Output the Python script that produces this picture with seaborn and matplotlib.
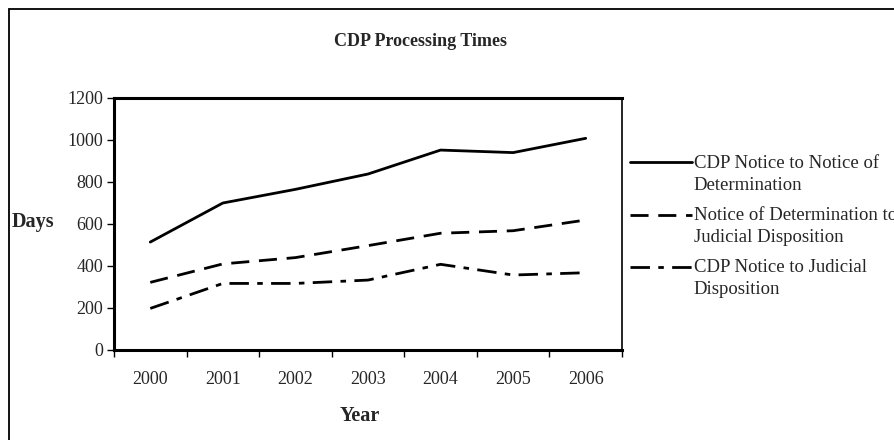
import matplotlib
matplotlib.use("Agg")
import matplotlib.pyplot as plt
import seaborn as sns
import pandas as pd
from matplotlib.lines import Line2D
from matplotlib.legend_handler import HandlerLine2D

years = ["2000", "2001", "2002", "2003", "2004", "2005", "2006"]
notice_to_determination = [514, 700, 765, 838, 952, 940, 1008]
determination_to_judicial = [322, 410, 440, 497, 556, 568, 619]
notice_to_judicial = [198, 317, 317, 333, 408, 357, 368]
series_names = ["CDP Notice to Notice of\nDetermination",
                "Notice of Determination to\nJudicial Disposition",
                "CDP Notice to Judicial\nDisposition"]
y_ticks = [0, 200, 400, 600, 800, 1000, 1200]

sns.set_theme(style="white")
plt.rcParams["font.family"] = ["Liberation Serif", "DejaVu Serif"]
plt.rcParams["lines.scale_dashes"] = False

rows = []
for name, vals in zip(series_names, [notice_to_determination, determination_to_judicial, notice_to_judicial]):
    for i, (yr, v) in enumerate(zip(years, vals)):
        rows.append({"pos": i, "Year": yr, "Days": v, "Series": name})
df = pd.DataFrame(rows)

W, H = 894, 440
fig = plt.figure(figsize=(W / 100, H / 100), dpi=100)
ax = fig.add_axes([114 / W, 1 - 350 / H, (622 - 114) / W, (350 - 98) / H])

dash_styles = ["-", (0, (13, 7)), (0, (14, 6, 4, 6))]
for name, ls in zip(series_names, dash_styles):
    sub = df[df["Series"] == name]
    sns.lineplot(data=sub, x="pos", y="Days", ax=ax, color="black", lw=2,
                 linestyle=ls, legend=False)

ax.set_xlim(-0.5, len(years) - 0.5)
ax.set_ylim(0, 1200)
ax.set_yticks(y_ticks)
ax.set_yticklabels([str(t) for t in y_ticks], fontsize=13)
ax.set_xticks([i - 0.5 for i in range(len(years) + 1)])
ax.set_xticklabels([])
ax.set_xticks(range(len(years)), minor=True)
ax.set_xticklabels(years, minor=True, fontsize=13)
ax.tick_params(axis="x", which="major", direction="out", length=5, width=1, color="black", bottom=True)
ax.tick_params(axis="x", which="minor", length=0, pad=15)
ax.tick_params(axis="y", direction="out", length=5, width=1, color="black", left=True, pad=3)
ax.set_xlabel("")
ax.set_ylabel("")
for side, lw in [("left", 2.2), ("bottom", 2.2), ("top", 2.2), ("right", 1.2)]:
    ax.spines[side].set_visible(True)
    ax.spines[side].set_color("black")
    ax.spines[side].set_linewidth(lw)
ax.grid(False)

fig.text(420 / W, 1 - 42 / H, "CDP Processing Times", ha="center", va="center",
         fontsize=13, fontweight="bold")
fig.text(12 / W, 1 - 222 / H, "Days", ha="left", va="center", fontsize=14.5, fontweight="bold")
fig.text(360 / W, 1 - 416 / H, "Year", ha="center", va="center", fontsize=14.5, fontweight="bold")


class TopAlignedLine(HandlerLine2D):
    """Place the legend sample level with the first text line of a two-line label."""
    shift_pts = 8.6

    def create_artists(self, legend, orig_handle, xdescent, ydescent, width, height, fontsize, trans):
        artists = super().create_artists(legend, orig_handle, xdescent, ydescent,
                                         width, height, fontsize, trans)
        for a in artists:
            if isinstance(a, Line2D):
                a.set_ydata([y + self.shift_pts for y in a.get_ydata()])
        return artists


handles = [Line2D([], [], color="black", lw=2, linestyle=ls) for ls in dash_styles]
leg = fig.legend(handles, series_names, loc="upper left", bbox_to_anchor=(630 / W, 1 - 155 / H),
                 frameon=False, fontsize=13.5, handlelength=3.3, handletextpad=0.1,
                 labelspacing=0.72, borderaxespad=0, borderpad=0,
                 handler_map={Line2D: TopAlignedLine()})
for t in leg.get_texts():
    t.set_linespacing(1.36)

# outer chart border (cropped)
fig.add_artist(Line2D([8.5 / W, 8.5 / W], [0, 1 - 9 / H], transform=fig.transFigure, color="black", lw=1.3))
fig.add_artist(Line2D([8.5 / W, 1], [1 - 9 / H, 1 - 9 / H], transform=fig.transFigure, color="black", lw=1.3))

fig.savefig("out.png", dpi=100)
